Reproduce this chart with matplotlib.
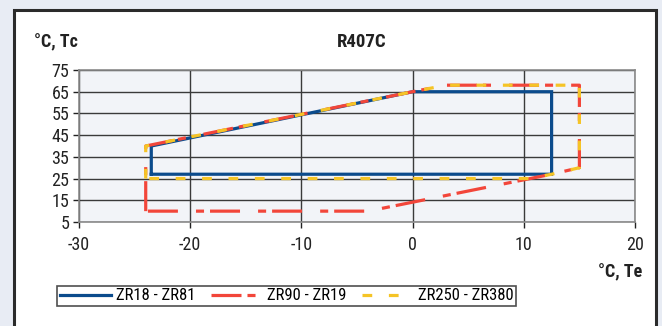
import matplotlib
matplotlib.use("Agg")
import matplotlib.pyplot as plt
from matplotlib.patches import Rectangle
from matplotlib import font_manager

names = sorted({f.name for f in font_manager.fontManager.ttflist})
narrow = [n for n in ['Liberation Sans Narrow', 'Roboto Condensed', 'DejaVu Sans Condensed',
                      'Open Sans Condensed'] if n in names]
plt.rcParams['font.family'] = narrow + ['Liberation Sans', 'DejaVu Sans']
plt.rcParams['lines.scale_dashes'] = False

title = "R407C"
series_names = ["ZR18 - ZR81", "ZR90 - ZR19", "ZR250 - ZR380"]

# envelope outlines (Te, Tc)
zr18_te = [-23.5, -23.5, 0, 12.5, 12.5, -23.5]
zr18_tc = [27, 40, 65, 65, 27, 27]

zr90_te = [-24, -24, 0, 3, 15, 15, 12.5, -4, -24]
zr90_tc = [10, 40, 65, 68, 68, 30, 27, 10, 10]

zr250_te = [-24, -24, 0, 3, 15, 15, 12.5, 10.5, -24]
zr250_tc = [25, 40, 65, 68, 68, 30, 27, 25, 25]

x_ticks = [-30, -20, -10, 0, 10, 20]
y_ticks = [5, 15, 25, 35, 45, 55, 65, 75]

W, H = 662, 326
fig = plt.figure(figsize=(W / 100, H / 100), dpi=100)
fig.patch.set_facecolor("#e8ecf4")

# white panel with dark border
fig.patches.append(Rectangle((14 / W, -0.05), (656 - 14) / W, 1.05 - 10 / H,
                             transform=fig.transFigure, facecolor="white",
                             edgecolor="#2b2b2b", linewidth=2.2, zorder=-5))

ax = fig.add_axes([79 / W, 1 - 222 / H, (635 - 79) / W, (222 - 70) / H])
ax.set_zorder(2)
ax.set_facecolor("#f2f4f8")

ax.plot(zr18_te, zr18_tc, color="#0b4b8c", lw=2.3, solid_joinstyle="miter",
        label=series_names[0], zorder=3)
ax.plot(zr90_te, zr90_tc, color="#f2463a", lw=2.3,
        dashes=(21.6, 4.3, 5.8, 13), label=series_names[1], zorder=4)
ax.plot(zr250_te, zr250_tc, color="#f5c426", lw=2.3,
        dashes=(7, 12), label=series_names[2], zorder=5)

ax.set_xlim(-30, 20)
ax.set_ylim(5, 75)
ax.set_xticks(x_ticks)
ax.set_yticks(y_ticks)
ax.set_xticklabels([str(v) for v in x_ticks])
ax.set_yticklabels([str(v) for v in y_ticks])
ax.tick_params(axis="both", labelsize=13, colors="#222222", length=4,
               width=1, direction="out", pad=3)
ax.tick_params(axis="x", pad=6)
ax.grid(True, color="#3a3a3a", lw=1)
ax.set_axisbelow(True)
for s in ax.spines.values():
    s.set_color("#8a8a8a")
    s.set_linewidth(1.2)

fig.text(362 / W, 1 - 42 / H, title, ha="center", va="center",
         fontsize=13.5, fontweight="bold", color="#222222", zorder=3)
fig.text(34 / W, 1 - 42 / H, "°C, Tc", ha="left", va="center",
         fontsize=13, fontweight="bold", color="#222222", zorder=3)
fig.text(642 / W, 1 - 272 / H, "°C, Te", ha="right", va="center",
         fontsize=13, fontweight="bold", color="#222222", zorder=3)

leg = fig.legend(loc="center left", bbox_to_anchor=(57 / W, 1 - 296 / H),
                 ncol=3, fontsize=12, frameon=True, fancybox=False,
                 handlelength=3.1, handletextpad=0.3, columnspacing=0.9,
                 borderpad=0.15, borderaxespad=0)
leg.get_frame().set_edgecolor("#222222")
leg.get_frame().set_linewidth(1.2)
leg.set_zorder(3)

fig.savefig("out.png", dpi=100, facecolor=fig.get_facecolor())
